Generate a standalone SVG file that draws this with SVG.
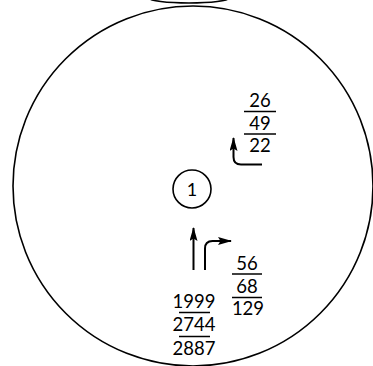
<svg xmlns="http://www.w3.org/2000/svg" width="373" height="366" viewBox="0 0 373 366">
<defs>
<style>
.ln{fill:none;stroke:#000;stroke-width:1.6}
.ar{fill:none;stroke:#000;stroke-width:2}
.bar{stroke:#000;stroke-width:1.5}
.t{font-family:Lato,"Noto Sans",sans-serif;font-size:18.5px;fill:#000;text-anchor:middle}
</style>
<marker id="ah" viewBox="0 0 14 8" refX="13" refY="4" markerWidth="14" markerHeight="8" markerUnits="userSpaceOnUse" orient="auto">
<path d="M0 0 L14 4 L0 8 L2.5 4 Z" fill="#000"/>
</marker>
</defs>
<rect width="373" height="366" fill="#fff"/>
<g id="outer">
<ellipse cx="189" cy="-2" rx="40" ry="5" class="ln"/>
<circle cx="193" cy="186" r="180" class="ln"/>
</g>
<g id="node1">
<circle cx="192" cy="189" r="19" class="ln"/>
<text x="192" y="195.5" class="t" style="font-size:18px">1</text>
</g>
<g id="frac-upper">
<text x="260" y="107" class="t">26</text>
<line x1="244" y1="111.5" x2="276" y2="111.5" class="bar"/>
<text x="260" y="129.5" class="t">49</text>
<line x1="244" y1="134" x2="276" y2="134" class="bar"/>
<text x="260" y="152" class="t">22</text>
</g>
<g id="frac-lower">
<text x="247" y="270" class="t">56</text>
<line x1="232" y1="274" x2="262" y2="274" class="bar"/>
<text x="247" y="292.5" class="t">68</text>
<line x1="232" y1="297.5" x2="262" y2="297.5" class="bar"/>
<text x="248" y="315" class="t">129</text>
</g>
<g id="stack-left">
<text x="194" y="307.5" class="t">1999</text>
<line x1="179" y1="312.5" x2="210" y2="312.5" class="bar"/>
<text x="194" y="330.5" class="t">2744</text>
<line x1="179" y1="336.5" x2="210" y2="336.5" class="bar"/>
<text x="194" y="354.5" class="t">2887</text>
</g>
<g id="connectors">
<path d="M262 164.5 H241 Q233.5 164.5 233.5 157 V138" class="ar" marker-end="url(#ah)"/>
<path d="M193.5 270 V228" class="ar" marker-end="url(#ah)"/>
<path d="M205 270 V248.5 Q205 241 212.5 241 H231" class="ar" marker-end="url(#ah)"/>
</g>
</svg>
